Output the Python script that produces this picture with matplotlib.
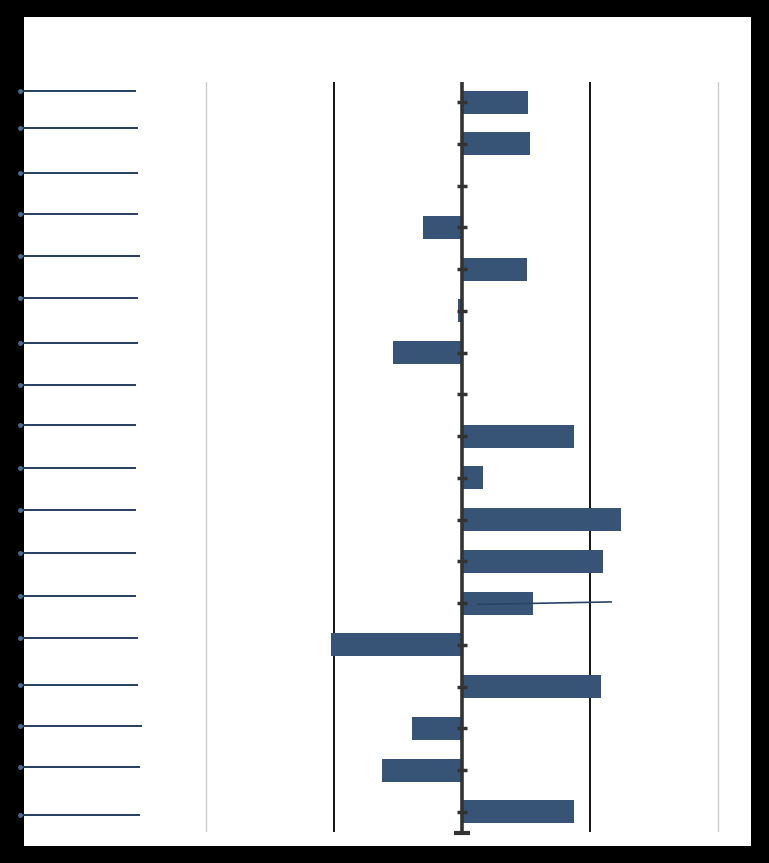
import matplotlib.pyplot as plt
from matplotlib.patches import Rectangle

# bar values, top to bottom
values = [0.52, 0.53, 0.0, -0.30, 0.51, -0.03, -0.54, 0.005, 0.875, 0.165,
          1.24, 1.10, 0.555, -1.02, 1.09, -0.39, -0.625, 0.875]
# placeholder label lines on the left: vertical offset from category and right end
label_offsets = [-0.26, -0.38, -0.29, -0.31, -0.31, -0.31, -0.24, -0.22, -0.26,
                 -0.24, -0.22, -0.19, -0.17, -0.17, -0.05, -0.07, -0.07, 0.07]
label_ends = [-2.555, -2.535, -2.535, -2.535, -2.525, -2.535, -2.535, -2.555, -2.555,
              -2.555, -2.555, -2.555, -2.555, -2.535, -2.535, -2.505, -2.525, -2.525]
# thin line drawn over bar 13
err_index = 12
err_range = (0.125, 1.165)

W, H = 769, 863
fig = plt.figure(figsize=(W / 100, H / 100), dpi=100, facecolor='black')
fig.patches.append(Rectangle((24 / W, 17 / H), 727 / W, 829 / H,
                             transform=fig.transFigure, facecolor='white',
                             edgecolor='none', zorder=-10))

ax = fig.add_axes([24 / W, (H - 832) / H, 727 / W, 750 / H])
ax.set_zorder(5)
ax.set_facecolor('none')
n = len(values)
ypos = list(range(n))
bar_color = '#375476'

# gridlines
for gx, gc in [(-2, '#cccccc'), (-1, 'black'), (1, 'black'), (2, '#cccccc')]:
    ax.axvline(gx, color=gc, lw=1.3 if gc == 'black' else 1.0, zorder=1)

ax.barh(ypos, values, height=0.55, color=bar_color, zorder=2)

# zero axis with ticks
ax.axvline(0, color='#333333', lw=2.6, zorder=3)
ax.plot([0] * n, ypos, ls='none', marker='_', ms=7, mew=2.5,
        color='#333333', zorder=3)
ax.plot([0], [n - 0.5], ls='none', marker='_', ms=11, mew=3,
        color='#333333', zorder=3, clip_on=False)

# thin line on bar 13
ax.plot(err_range, [err_index + 0.03, err_index - 0.03], color='#2b4466',
        lw=1.2, zorder=4)

# left placeholder lines
for i, (off, end) in enumerate(zip(label_offsets, label_ends)):
    ax.plot([-3.45, end], [i + off, i + off], color='#243d5e', lw=1.4,
            clip_on=False, zorder=4)
    ax.plot([-3.45], [i + off], marker='o', ms=2.5, color='#4a6a90',
            clip_on=False, zorder=4)

ax.set_xlim(-3.42, 2.258)
ax.set_ylim(n - 0.52, -0.48)
ax.set_xticks([])
ax.set_yticks([])
for s in ax.spines.values():
    s.set_visible(False)

fig.savefig('out.png', dpi=100, facecolor='black')
